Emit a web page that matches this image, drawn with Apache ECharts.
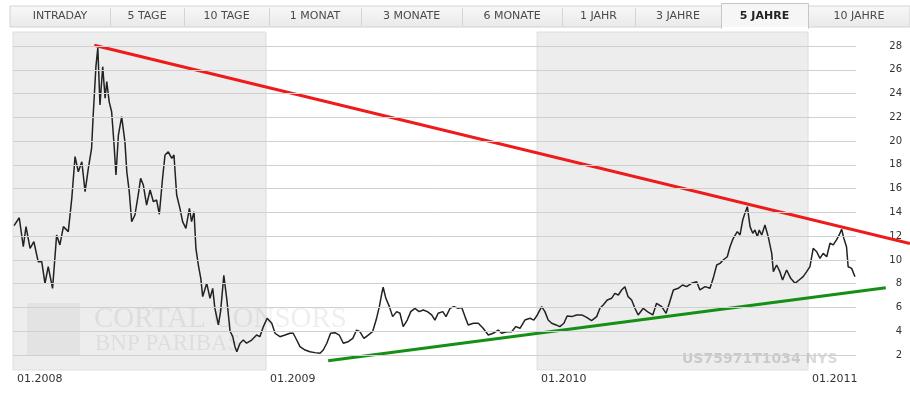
<!DOCTYPE html>
<html>
<head>
<meta charset="UTF-8">
<title>US75971T1034 NYS - 5 Jahre</title>
<script src="https://cdn.jsdelivr.net/npm/echarts@6.0.0/dist/echarts.min.js"></script>
<style>
  html, body { margin: 0; padding: 0; background: #fff; }
  #main { width: 910px; height: 399px; }
</style>
</head>
<body>
<div id="main"></div>
<script>
// tabs across the top
var tabLabels = ['INTRADAY', '5 TAGE', '10 TAGE', '1 MONAT', '3 MONATE', '6 MONATE', '1 JAHR', '3 JAHRE', '5 JAHRE', '10 JAHRE'];
var activeTab = 8;

// axes (x in fractional years)
var xMin = 2008.066, xMax = 2011.177;
var yMin = 0.738, yMax = 29.178;
var xTicks = [2008.066, 2009, 2010, 2011];
var yTicks = [2, 4, 6, 8, 10, 12, 14, 16, 18, 20, 22, 24, 26, 28];
var shadedYears = [[2008.066, 2009], [2010, 2011]];

// closing prices
var price = [
  [2008.070,12.88],[2008.089,13.55],[2008.104,11.11],[2008.114,12.80],[2008.129,10.98],[2008.143,11.53],
  [2008.159,9.85],[2008.172,9.85],[2008.184,8.03],[2008.196,9.43],[2008.212,7.61],[2008.227,12.10],
  [2008.239,11.26],[2008.252,12.80],[2008.270,12.38],[2008.283,15.19],[2008.295,18.69],[2008.307,17.42],
  [2008.320,18.26],[2008.332,15.74],[2008.344,17.70],[2008.356,19.39],[2008.362,22.19],[2008.372,26.26],
  [2008.379,27.85],[2008.387,23.04],[2008.397,26.26],[2008.406,23.60],[2008.412,25.00],[2008.421,23.30],
  [2008.430,22.47],[2008.439,19.67],[2008.446,17.15],[2008.455,20.51],[2008.467,22.05],[2008.479,19.95],
  [2008.486,17.42],[2008.495,15.74],[2008.504,13.22],[2008.516,13.78],[2008.528,15.46],[2008.537,16.87],
  [2008.547,16.30],[2008.559,14.62],[2008.572,15.88],[2008.584,14.90],[2008.596,15.04],[2008.606,13.84],
  [2008.618,16.87],[2008.627,18.83],[2008.639,19.10],[2008.652,18.55],[2008.660,18.83],[2008.670,15.46],
  [2008.682,14.34],[2008.692,13.22],[2008.704,12.66],[2008.717,14.34],[2008.725,13.22],[2008.734,14.06],
  [2008.741,10.98],[2008.750,9.57],[2008.759,8.45],[2008.766,6.91],[2008.781,8.03],[2008.793,6.77],
  [2008.803,7.61],[2008.811,5.93],[2008.824,4.53],[2008.832,5.65],[2008.844,8.70],[2008.855,6.70],
  [2008.867,4.00],[2008.877,3.54],[2008.885,2.70],[2008.892,2.28],[2008.904,2.99],[2008.916,3.26],
  [2008.928,2.99],[2008.947,3.26],[2008.965,3.68],[2008.977,3.54],[2008.990,4.39],[2009.004,5.09],
  [2009.021,4.67],[2009.033,3.83],[2009.051,3.54],[2009.070,3.68],[2009.088,3.83],[2009.100,3.83],
  [2009.113,3.26],[2009.125,2.70],[2009.144,2.42],[2009.162,2.28],[2009.180,2.20],[2009.199,2.14],
  [2009.211,2.42],[2009.224,2.99],[2009.238,3.83],[2009.254,3.88],[2009.270,3.68],[2009.285,2.99],
  [2009.303,3.12],[2009.320,3.40],[2009.334,4.10],[2009.346,3.96],[2009.361,3.40],[2009.377,3.68],
  [2009.393,3.96],[2009.406,4.94],[2009.418,6.07],[2009.427,7.19],[2009.432,7.70],[2009.442,6.77],
  [2009.455,6.07],[2009.467,5.23],[2009.482,5.65],[2009.494,5.51],[2009.506,4.39],[2009.521,4.94],
  [2009.534,5.65],[2009.549,5.93],[2009.565,5.65],[2009.580,5.79],[2009.595,5.65],[2009.611,5.37],
  [2009.623,4.94],[2009.635,5.51],[2009.652,5.65],[2009.664,5.23],[2009.679,5.93],[2009.693,6.07],
  [2009.709,5.93],[2009.722,6.00],[2009.734,5.23],[2009.746,4.53],[2009.765,4.67],[2009.783,4.67],
  [2009.801,4.25],[2009.820,3.68],[2009.838,3.83],[2009.857,4.10],[2009.869,3.83],[2009.888,3.96],
  [2009.906,3.96],[2009.922,4.39],[2009.937,4.25],[2009.955,4.94],[2009.974,5.09],[2009.988,4.94],
  [2010.001,5.37],[2010.017,6.07],[2010.029,5.65],[2010.041,4.94],[2010.054,4.67],[2010.070,4.53],
  [2010.084,4.39],[2010.099,4.67],[2010.111,5.28],[2010.128,5.23],[2010.146,5.37],[2010.165,5.37],
  [2010.183,5.17],[2010.201,4.89],[2010.220,5.23],[2010.232,5.93],[2010.244,6.21],[2010.259,6.63],
  [2010.275,6.77],[2010.287,7.19],[2010.300,7.05],[2010.312,7.47],[2010.324,7.75],[2010.336,6.91],
  [2010.349,6.63],[2010.361,5.93],[2010.373,5.37],[2010.392,5.93],[2010.410,5.60],[2010.427,5.37],
  [2010.441,6.35],[2010.460,6.07],[2010.476,5.51],[2010.488,6.35],[2010.503,7.47],[2010.521,7.61],
  [2010.537,7.89],[2010.552,7.75],[2010.570,8.03],[2010.589,8.17],[2010.601,7.47],[2010.620,7.75],
  [2010.638,7.61],[2010.650,8.45],[2010.663,9.57],[2010.675,9.71],[2010.687,9.99],[2010.702,10.27],
  [2010.712,11.11],[2010.724,11.82],[2010.739,12.38],[2010.749,12.10],[2010.759,13.36],[2010.767,13.92],
  [2010.776,14.48],[2010.786,12.80],[2010.796,12.24],[2010.804,12.52],[2010.813,11.96],[2010.820,12.52],
  [2010.829,12.10],[2010.841,12.94],[2010.853,11.96],[2010.866,10.55],[2010.872,9.01],[2010.884,9.57],
  [2010.896,9.01],[2010.906,8.31],[2010.921,9.15],[2010.936,8.45],[2010.952,8.03],[2010.967,8.31],
  [2010.982,8.59],[2010.995,9.01],[2011.007,9.43],[2011.019,10.98],[2011.032,10.69],[2011.044,10.13],
  [2011.056,10.55],[2011.069,10.27],[2011.081,11.40],[2011.093,11.26],[2011.105,11.68],[2011.115,12.10],
  [2011.124,12.58],[2011.132,11.82],[2011.142,11.11],[2011.148,9.43],[2011.161,9.29],[2011.173,8.59]
];

// trend lines
var resistance = [[2008.366, 28.06], [2011.376, 11.38]];
var support = [[2009.229, 1.52], [2011.287, 7.66]];

// layout
var tabEdges = [10, 110, 184, 269, 361, 462, 562, 635, 721, 808, 910];
var plotLeft = 13, plotRight = 856, chartWidth = 910;
// the trend lines run past the plot to the right edge, so they sit on a wider grid with the same scale
var xMaxWide = xMin + (xMax - xMin) * (chartWidth - plotLeft) / (plotRight - plotLeft);

var chart = echarts.init(document.getElementById('main'));
var font = 'DejaVu Sans, Verdana, sans-serif';

var graphics = [];
graphics.push({
  type: 'rect', z: 10,
  shape: {x: 10, y: 6, width: 900, height: 21},
  style: {fill: new echarts.graphic.LinearGradient(0, 0, 0, 1, [
    {offset: 0, color: '#f8f8f8'}, {offset: 1, color: '#e9e9e9'}]), stroke: '#d2d2d2', lineWidth: 1}
});
for (var i = 1; i < tabEdges.length - 1; i++) {
  graphics.push({type: 'line', z: 11, shape: {x1: tabEdges[i] + 0.5, y1: 8, x2: tabEdges[i] + 0.5, y2: 26},
    style: {stroke: '#d4d4d4', lineWidth: 1}});
}
graphics.push({
  type: 'rect', z: 12,
  shape: {x: tabEdges[activeTab] + 0.5, y: 3.5, width: tabEdges[activeTab + 1] - tabEdges[activeTab], height: 25},
  style: {fill: '#f6f6f6', stroke: '#c6c6c6', lineWidth: 1}
});
graphics.push({type: 'line', z: 13, shape: {x1: tabEdges[activeTab] + 1, y1: 28, x2: tabEdges[activeTab + 1], y2: 28},
  style: {stroke: '#ffffff', lineWidth: 2}});
tabLabels.forEach(function (t, i) {
  graphics.push({
    type: 'text', z: 14,
    x: (tabEdges[i] + tabEdges[i + 1]) / 2, y: 16,
    style: {text: t, fill: i === activeTab ? '#222' : '#4a4a4a', font: (i === activeTab ? 'bold ' : '') + '11px ' + font,
      textAlign: 'center', textVerticalAlign: 'middle'}
  });
});

// watermark
graphics.push({type: 'rect', z: 2, shape: {x: 27, y: 303, width: 53, height: 52}, style: {fill: 'rgba(0,0,0,0.04)'}});
graphics.push({type: 'text', z: 2, x: 94, y: 319, style: {text: 'CORTAL CONSORS', fill: 'rgba(0,0,0,0.065)',
  font: '29px Liberation Serif, serif', textVerticalAlign: 'middle'}});
graphics.push({type: 'text', z: 2, x: 95, y: 344, style: {text: 'BNP PARIBAS', fill: 'rgba(0,0,0,0.065)',
  font: '23px Liberation Serif, serif', textVerticalAlign: 'middle'}});
graphics.push({type: 'text', z: 2, x: 682, y: 359, style: {text: 'US75971T1034 NYS', fill: 'rgba(0,0,0,0.15)',
  font: 'bold 14px ' + font, textVerticalAlign: 'middle'}});

chart.setOption({
  animation: false,
  backgroundColor: '#fff',
  grid: [
    {left: plotLeft, right: chartWidth - plotRight, top: 32, bottom: 29, containLabel: false, outerBoundsMode: 'none'},
    {left: plotLeft, right: 0, top: 32, bottom: 29, containLabel: false, outerBoundsMode: 'none'}
  ],
  xAxis: [{
    type: 'value', min: xMin, max: xMax,
    axisLine: {show: false}, axisTick: {show: false}, splitLine: {show: false},
    axisLabel: {
      customValues: xTicks, align: 'left', margin: 4, padding: [0, 0, 0, 4],
      color: '#333', fontSize: 11, fontFamily: font,
      formatter: function (v) { return '01.' + Math.floor(v + 0.001); }
    }
  }, {
    type: 'value', gridIndex: 1, min: xMin, max: xMaxWide, show: false
  }],
  yAxis: [{
    type: 'value', position: 'right', min: yMin, max: yMax,
    axisLine: {show: false}, axisTick: {show: false}, splitLine: {show: false},
    axisLabel: {customValues: yTicks, align: 'right', margin: 46, color: '#333', fontSize: 10, fontFamily: font}
  }, {
    type: 'value', gridIndex: 1, min: yMin, max: yMax, show: false
  }],
  graphic: graphics,
  series: [
    {
      type: 'line', z: 1, silent: true, showSymbol: false,
      data: [[xMin, yMin]],
      markArea: {
        silent: true,
        itemStyle: {color: '#ededed', borderColor: '#dedede', borderWidth: 1},
        data: shadedYears.map(function (b) { return [{xAxis: b[0]}, {xAxis: b[1]}]; })
      },
      markLine: {
        silent: true, symbol: 'none', animation: false,
        label: {show: false},
        lineStyle: {color: '#d0d0d0', type: 'solid', width: 1},
        data: yTicks.map(function (v) { return {yAxis: v}; })
      }
    },
    {
      type: 'line', z: 3, silent: true, showSymbol: false,
      data: price,
      lineStyle: {color: '#222', width: 1.5}
    },
    {
      type: 'line', z: 4, silent: true, showSymbol: false, xAxisIndex: 1, yAxisIndex: 1,
      data: resistance,
      lineStyle: {color: '#ee1b1b', width: 3}
    },
    {
      type: 'line', z: 4, silent: true, showSymbol: false, xAxisIndex: 1, yAxisIndex: 1,
      data: support,
      lineStyle: {color: '#168f16', width: 3}
    }
  ]
});
</script>
</body>
</html>
